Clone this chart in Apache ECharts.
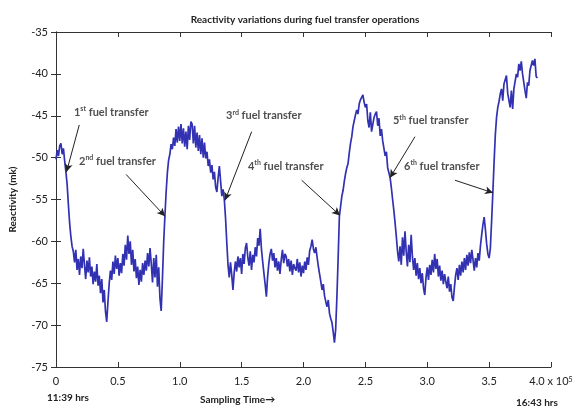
<!DOCTYPE html>
<html>
<head>
<meta charset="utf-8">
<script src="https://cdn.jsdelivr.net/npm/echarts@6/dist/echarts.min.js"></script>
<style>
  html, body { margin: 0; padding: 0; background: #fff; }
  #chart { width: 580px; height: 410px; }
</style>
</head>
<body>
<div id="chart"></div>
<script>
// Reactor reactivity log: one reading every SAMPLE_STEP samples
const SAMPLE_STEP = 1000;

const reactivity = [
  -50.2, -49.1, -49.8, -48.6, -48.3, -49.6, -48.9, -50.4, -51.7, -53.2,
  -55.6, -57.8, -59.4, -60.6, -61.2, -62.5, -61.0, -63.4, -62.1, -64.0,
  -61.8, -63.2, -60.9, -62.8, -64.5, -62.3, -63.7, -61.9, -64.2, -63.0,
  -65.1, -63.6, -64.8, -62.7, -65.3, -64.1, -66.2, -64.5, -67.3, -65.8,
  -68.4, -69.6, -67.2, -65.0, -63.5, -64.6, -62.4, -63.9, -61.7, -63.3,
  -62.0, -64.1, -62.6, -63.8, -61.5, -62.9, -60.4, -62.2, -59.3, -61.5,
  -60.0, -62.8, -61.0, -63.6, -62.1, -64.4, -63.0, -65.2, -63.4, -64.8,
  -62.6, -64.0, -62.3, -63.5, -61.4, -63.0, -60.8, -62.7, -64.9, -62.0,
  -64.3, -61.6, -65.4, -63.1, -66.8, -68.3, -64.5, -60.2, -57.0, -54.1,
  -51.8, -50.3, -49.6, -48.4, -49.0, -47.6, -48.6, -46.6, -48.2, -46.3,
  -48.0, -46.0, -48.3, -46.5, -48.7, -46.9, -49.0, -46.2, -47.9, -45.7,
  -46.0, -48.3, -46.2, -48.8, -47.0, -49.2, -47.3, -49.6, -47.7, -50.0,
  -48.2, -50.1, -49.3, -51.0, -50.2, -51.8, -50.9, -52.6, -51.7, -53.5,
  -54.1, -52.4, -51.0, -52.8, -54.6, -53.8, -55.0, -57.2, -60.1, -62.8,
  -64.3, -62.5, -64.0, -65.8, -63.7, -62.4, -63.6, -61.8, -63.1, -62.0,
  -63.9, -61.5, -62.7, -60.8, -60.2, -61.9, -62.9, -61.2, -63.4, -61.6,
  -62.5, -60.7, -61.8, -59.6, -60.5, -58.5, -60.9, -62.4, -63.8, -65.1,
  -66.6, -64.2, -62.6, -61.5, -60.9, -62.3, -61.4, -63.1, -62.0, -63.5,
  -62.4, -63.9, -62.2, -61.0, -62.6, -61.5, -61.8, -63.0, -62.1, -63.6,
  -62.3, -64.0, -62.7, -63.2, -63.5, -62.1, -63.7, -62.5, -64.2, -62.9,
  -63.8, -62.4, -63.4, -61.9, -62.8, -61.1, -60.6, -59.8, -60.9, -61.4,
  -60.7, -61.9, -63.0, -63.9, -64.8, -65.8, -65.1, -66.5, -67.2, -67.8,
  -67.0, -68.6, -69.2, -69.7, -70.8, -72.1, -70.5, -66.6, -62.0, -57.0,
  -55.8, -54.6, -53.9, -52.8, -51.9, -51.2, -50.7, -49.4, -48.3, -47.5,
  -46.3, -45.6, -44.9, -44.3, -44.8, -43.6, -43.1, -42.8, -42.5, -43.4,
  -44.0, -43.6, -45.6, -46.4, -44.6, -46.9, -47.1, -45.2, -44.8, -44.5,
  -46.2, -45.3, -47.4, -46.6, -48.0, -47.8, -49.8, -49.3, -51.2, -51.0,
  -52.4, -53.6, -55.0, -56.3, -57.8, -59.4, -61.2, -62.4, -60.6, -62.8,
  -59.5, -61.7, -58.8, -61.2, -63.0, -60.4, -62.5, -59.2, -61.8, -63.4,
  -62.0, -64.1, -62.6, -64.5, -63.2, -65.0, -63.8, -65.6, -66.4, -64.3,
  -63.1, -64.6, -62.8, -64.0, -62.2, -63.7, -61.5, -63.3, -62.1, -64.2,
  -62.9, -64.7, -63.5, -65.1, -63.9, -64.8, -65.6, -64.2, -66.0, -65.1,
  -66.7, -67.1, -65.4, -64.0, -63.2, -64.6, -62.8, -64.1, -62.4, -63.7,
  -62.0, -63.4, -61.6, -62.9, -61.3, -62.6, -61.0, -62.2, -63.5, -62.0,
  -63.1, -61.4, -62.3, -60.5, -59.2, -58.0, -57.1, -58.6, -60.3, -61.5,
  -62.0, -60.8, -57.6, -54.2, -50.6, -47.3, -45.2, -44.0, -43.3, -42.4,
  -41.8, -43.2, -41.2, -41.4, -40.2, -42.3, -42.1, -44.0, -42.0, -44.2,
  -41.8, -41.9, -40.0, -40.4, -38.8, -39.6, -38.5, -40.0, -40.2, -42.0,
  -42.9, -41.0, -41.4, -39.6, -39.8, -38.4, -39.0, -38.2, -40.3, -40.5
];

// Fuel transfer events: ordinal suffix, label anchor, arrow tail, arrow head
const transferOrdinals = ['st', 'nd', 'rd', 'th', 'th', 'th'];
const labelAnchors = [
  [13700, -44.6], [17800, -50.4], [136600, -45.0],
  [154300, -51.0], [271500, -45.6], [280400, -51.0]
];
const arrowTails = [
  [18800, -46.1], [56600, -52.0], [158100, -46.9],
  [198500, -52.7], [290100, -47.5], [322400, -52.7]
];
const arrowHeads = [
  [8500, -51.7], [88100, -57.0], [136600, -55.1],
  [229500, -56.9], [269900, -52.4], [353100, -54.2]
];

const yTicks = [-75, -70, -65, -60, -55, -50, -45, -40, -35];

const series = reactivity.map((v, i) => [i * SAMPLE_STEP, v]);

const FONT = 'Lato';
const chart = echarts.init(document.getElementById('chart'), null, { renderer: 'canvas' });

const axisLine = { show: true, lineStyle: { color: '#333', width: 1 } };
const axisTick = { show: true, inside: true, length: 5, lineStyle: { color: '#333' } };

chart.setOption({
  backgroundColor: '#fff',
  animation: false,
  title: {
    text: 'Reactivity variations during fuel transfer operations',
    left: 300, top: 10, textAlign: 'center',
    textStyle: { fontFamily: FONT, fontSize: 10, fontWeight: 'bold', color: '#222' }
  },
  grid: { left: 56, right: 29, top: 32, bottom: 43 },
  xAxis: [{
    type: 'value', min: 0, max: 400000, interval: 50000,
    axisLine, axisTick, splitLine: { show: false },
    axisLabel: {
      margin: 9, fontFamily: FONT, fontSize: 11, color: '#222',
      formatter: v => v === 0 ? '0' : v === 400000 ? '{n|4.0 x 10}{s|5}' : (v / 100000).toFixed(1),
      rich: {
        n: { fontFamily: FONT, fontSize: 11, color: '#222' },
        s: { fontFamily: FONT, fontSize: 7, color: '#222', verticalAlign: 'top' }
      }
    }
  }, {
    type: 'value', position: 'top', min: 0, max: 400000, interval: 50000,
    axisLine, axisTick, axisLabel: { show: false }, splitLine: { show: false }
  }],
  yAxis: [{
    type: 'value', min: yTicks[0], max: yTicks[yTicks.length - 1], interval: 5,
    axisLine, axisTick, splitLine: { show: false },
    axisLabel: { margin: 8, fontFamily: FONT, fontSize: 11, color: '#222' },
    name: 'Reactivity (mk)', nameLocation: 'middle', nameGap: 38, nameRotate: 90,
    nameTextStyle: { fontFamily: FONT, fontSize: 10, fontWeight: 'bold', color: '#222' }
  }, {
    type: 'value', position: 'right', min: yTicks[0], max: yTicks[yTicks.length - 1], interval: 5,
    axisLine, axisTick, axisLabel: { show: false }, splitLine: { show: false }
  }],
  series: [{
    type: 'line',
    data: series,
    showSymbol: false,
    lineStyle: { color: '#3131b2', width: 1.7 },
    z: 2,
    markLine: {
      silent: true,
      animation: false,
      symbol: ['none', 'arrow'],
      symbolSize: [6, 8],
      label: { show: false },
      lineStyle: { color: '#222', width: 1, type: 'solid' },
      data: arrowTails.map((t, k) => [{ coord: t }, { coord: arrowHeads[k] }])
    }
  }, {
    type: 'scatter',
    symbolSize: 0,
    z: 5,
    data: labelAnchors,
    label: {
      show: true, position: 'right', distance: 0,
      backgroundColor: '#fff', padding: [0, 1],
      formatter: p => `{b|${p.dataIndex + 1}}{s|${transferOrdinals[p.dataIndex]}}{b| fuel transfer}`,
      rich: {
        b: { fontFamily: FONT, fontSize: 11, fontWeight: 'bold', color: '#222', lineHeight: 14 },
        s: { fontFamily: FONT, fontSize: 7, fontWeight: 'bold', color: '#222', verticalAlign: 'top', lineHeight: 14 }
      }
    }
  }],
  graphic: [
    { type: 'text', left: 47, top: 393,
      style: { text: '11:39 hrs', font: `bold 10px ${FONT}`, fill: '#222' } },
    { type: 'text', left: 200, top: 395,
      style: { text: 'Sampling Time\u2192', font: `bold 10px ${FONT}`, fill: '#222' } },
    { type: 'text', left: 516, top: 398,
      style: { text: '16:43 hrs', font: `bold 10px ${FONT}`, fill: '#222' } }
  ]
});
</script>
</body>
</html>
